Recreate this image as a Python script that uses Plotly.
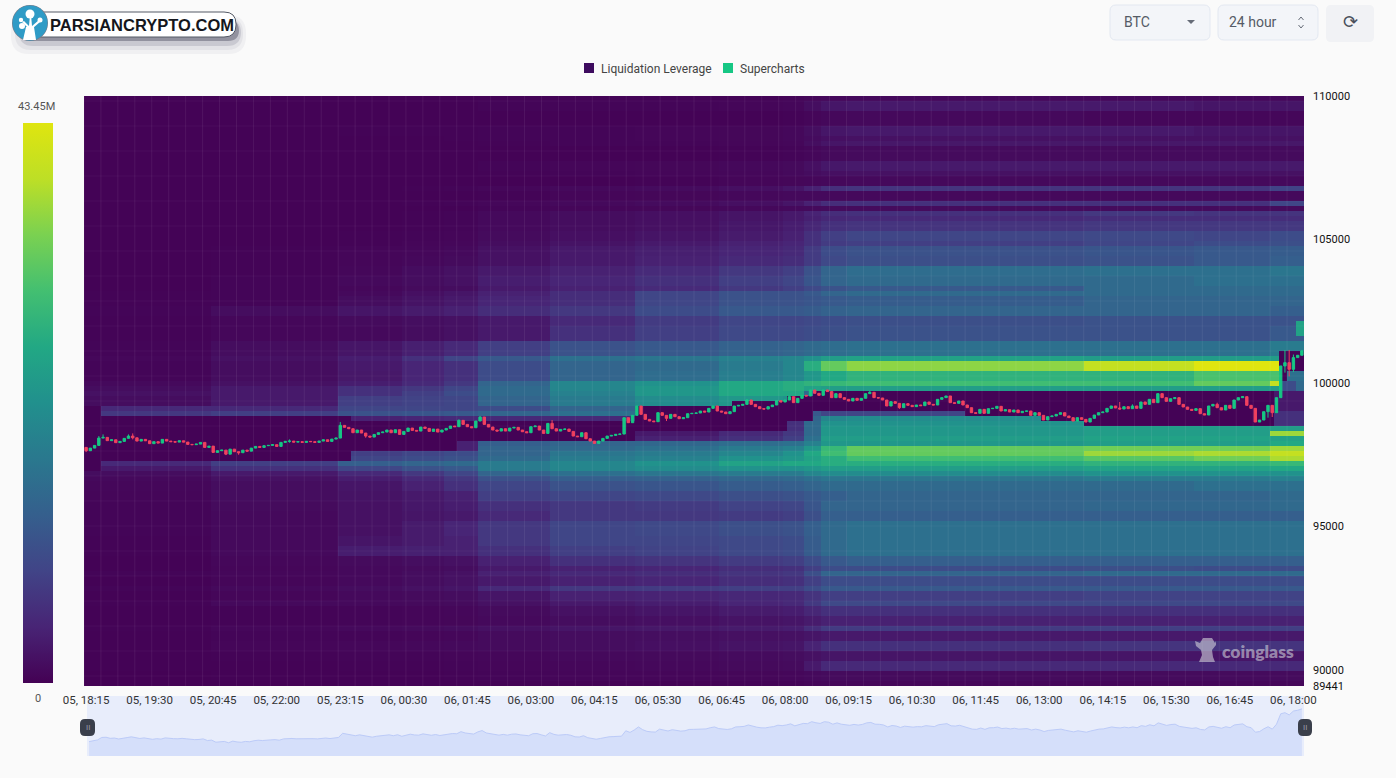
import numpy as np
import plotly.graph_objects as go

W, H = 1396, 778
def X(p): return p / W
def Y(p): return 1 - p / H

time_labels = ["05, 18:15","05, 19:30","05, 20:45","05, 22:00","05, 23:15","06, 00:30","06, 01:45","06, 03:00","06, 04:15","06, 05:30",
               "06, 06:45","06, 08:00","06, 09:15","06, 10:30","06, 11:45","06, 13:00","06, 14:15","06, 15:30","06, 16:45","06, 18:00"]
price_ticks = [89441, 90000, 95000, 100000, 105000, 110000]
legend_names = ["Liquidation Leverage", "Supercharts"]

first_open = 97755
closes_a = [97640,97730,97825,98080,98105,97990,98020,97920,97965,98070,98150,98090,97975,98035,97985,97885,97955,97905,98035,97975,
            97955,97940,97985,97940,97860,97850,97870,97930,97755,97800,97580,97640,97660,97520,97695,97605,97570,97660,97625,97730,
            97790,97755,97815,97825,97850,97790,97930,97965,97975,97940,97955,97930,97965,97955,97930,97975,98020,97965,98045]
closes_b = [98080,98522,98453,98406,98267,98360,98255,98150,98115,98208,98267,98290,98360,98267,98371,98208,98313,98429,98348,98325,
            98464,98418,98313,98394,98290,98360,98418,98499,98476,98697,98557,98476,98441,98674,98813,98557,98464,98360,98325,98406,
            98325,98429,98453,98360,98301,98267,98476,98499,98360,98243,98592,98406,98325,98383,98394,98313,98150,98127]
closes_c = [98267,98057,97976,97895,97976,98069,98150,98174,98209,98220,98790,98616,98872,99197,98906,98732,98674,98651,98965,98872,
            98767,98906,98825,98755,98790,98930,98941,98953,99023,98988,99116,99197,99023,98988,98930,99000,99197,99220,99255,99407,
            99255,99174,99104,99093,99174,99232,99383,99337,99407,99523,99314,99465,99569,99546,99755,99639,99569,99755,99700]
closes_d = [99488,99628,99489,99430,99372,99465,99395,99465,99628,99675,99489,99477,99407,99198,99349,99291,99140,99279,99221,99175,
            99233,99209,99337,99256,99233,99430,99489,99547,99314,99291,99372,99233,99140,98965,98942,99081,98942,99105,99116,99186,
            99023,99070,98988,99058,98965,99012,99023,98872,98965,98872,98709,98826,98849,98907,98965,98849,98791,98674,98791]
closes_e = [98732,98639,98767,98883,98965,98988,99116,99198,99128,99093,99174,99105,99198,99116,99337,99256,99430,99314,99628,99488,
            99360,99453,99488,99256,99163,99081,99046,99105,98930,98884,99198,99256,99139,99058,99221,99116,99407,99488,99523,99221,
            99116,98639,98709,99000,99221,98965,99488,100593,100709,100477,100884,100965,101116]
closes = closes_a + closes_b + closes_c + closes_d + closes_e
opens = [first_open] + closes[:-1]
wick_high = {3:98150,4:98208,10:98208,11:98243,48:98034,60:98639,88:98730,93:98848,110:98709,137:98800,156:99440,
             166:99560,176:99680,185:99720,244:99337,247:99256,267:99314,283:101151,284:101151,285:100990,287:101151}
wick_low = {0:97592,11:98034,33:97487,36:97499,48:97918,66:98092,109:98400,137:98674,192:99100,244:99080,279:98790,
            280:98814,283:100361,284:100230,285:100384}
highs = [max(o, c, wick_high.get(i, 0)) for i, (o, c) in enumerate(zip(opens, closes))]
lows = [min(o, c, wick_low.get(i, 10**6)) for i, (o, c) in enumerate(zip(opens, closes))]

phase_starts = [0,30,60,75,85,93,110,130,150,165,170,174,180,236,262,280]
band_tops = [110000,109825,109476,108953,108605,108430,108256,107733,107384,107209,106930,106666,106317,106142,105968,105793,105619,
             105340,104990,104816,104467,104118,103769,103665,103350,103246,103001,102722,102408,102059,101501,101012,100803,100454,
             100105,99930,99756,99616,99267,99093,98918,98744,98569,98395,98220,98046,97871,97697,97523,97348,97174,96999,96825,96580,
             96231,95952,95533,95184,94660,94311,93962,93613,93369,93194,92950,92741,92392,92148,91799,91450,91275,90926,90647,90228,89949,89670]
band_values = [
 [.3,.3,.3,.3,.3,.4,.4,.4,.4,.5,.7,.9,1,1,1,1],
 [.3,.3,.3,.3,.3,.5,.5,.5,.6,.8,1.6,2.6,3,3,2.5,2.5],
 [.2,.2,.2,.2,.2,.3,.3,.3,.3,.4,.6,.9,1,.8,.8,.8],
 [.3,.3,.4,.4,.4,.5,.5,.6,.7,.9,1.6,2.6,3,3,2.5,2.5],
 [.3,.3,.3,.3,.4,.5,.5,.6,.7,.9,1.3,1.8,2,2,2,2],
 [.2,.2,.3,.3,.3,.4,.5,.5,.6,.8,1.6,2.5,2.8,2.8,2.8,2.8],
 [.2,.2,.2,.2,.2,.3,.3,.3,.4,.5,.8,1.1,1.2,1.2,1.2,1.2],
 [.2,.2,.2,.2,.3,.5,.6,.7,.9,1.1,1.8,2.7,3,3,3,3],
 [.2,.2,.2,.2,.3,.4,.5,.6,.8,1,1.4,1.8,2,2,2,2],
 [.2,.2,.2,.2,.2,.3,.3,.4,.6,.7,.8,.9,1,1,1,1],
 [.2,.2,.3,.4,.5,.8,1,1.3,1.8,2.5,4,5.8,6.5,6.5,6.5,8.5],
 [.2,.2,.2,.2,.3,.4,.6,.7,.9,1,1,1,1,1,1,1],
 [.2,.2,.3,.4,.5,.8,1,1.3,1.8,2.5,4,5.5,6,6,6,9],
 [.2,.2,.2,.2,.3,.5,.6,.7,.9,1,1.1,1.2,1.2,1.2,1.2,1.2],
 [.2,.2,.3,.4,.5,1,1.5,1.8,2.4,3,4.2,5.5,6,7,6.5,6.5],
 [.2,.2,.3,.4,.5,1,1.5,1.8,2.4,3,3.8,4.7,5,5.5,5.5,5.5],
 [.2,.2,.3,.4,.5,1,1.5,1.9,2.7,3.5,4.7,6,6.5,7,7,7],
 [.2,.3,.4,.5,.6,1.2,1.8,2.4,3.2,4,6,8,9,9.5,9,10],
 [.2,.3,.4,.6,.8,1.5,2.2,3,4,4.5,6,7.5,8,9,10,10.5],
 [.3,.4,.6,.8,1,2,3,3.7,4.5,5,7.5,10,11,11.5,12,12.5],
 [.3,.4,.6,.9,1.2,2,3,4,5,5.5,7.5,9.5,10.5,11,12,13],
 [.3,.4,.8,1.4,2,3,4,5.2,7,8,11,14,15.5,16,16,17],
 [.3,.5,1,1.8,2.5,4,5,7,9,10,14,19,21,21,21,21],
 [.3,.5,1,1.5,2,3.5,4.5,6,8,9,11.5,14,15,15,16,16],
 [.3,.5,.8,1.2,1.5,3,4,5.2,7,8,9.5,11,12,15,15,15],
 [.4,.5,1,1.8,2.5,4,5.5,9,11,11,12,14,15,15,15,15],
 [.4,.5,1.5,2.2,3,4.5,5.5,9,11,11,11.5,12,12.5,14,14,14],
 [.5,1.5,2.5,3.2,4,5.5,7,10,12,12,12.5,13.5,14,14,14,13],
 [.4,.8,1.2,1.6,2,3,5,7.5,9,9,9.5,10,10.5,11,11,11],
 [.4,.8,1,1.5,2,3,6,8,9.5,9.5,10,10.5,11,11,11,12],
 [.5,1.5,2.5,3.7,5,8,11,12,13.5,14,15,15.5,16,16,16,18],
 [.8,2,3.5,6,9,12,16,17,19,20,22,24,25,24,24,24],
 [.5,1.5,3,4.5,6,10,14,15,18,20,27,33,36,40,43.4,43.4],
 [.5,1.5,2.8,4.5,6,10,14,15.5,18.5,20,23,26,28,28,31,31],
 [1,2,3.5,5,7,14,20,22,26,27,28,29,30,30,33,40],
 [1.5,3,6,7,9,15,20,23,26,27,25,24,24,24,24,24],
 [2,3,6,8,10,15,19,23,26,26,15,10,10,10,10,10],
 [1.5,3,8,8.5,9,14,18,21,23,22,15,10,10,10,10,10],
 [5,5,9,9,9,10,14,16,18,18,14,10,10,10,10,10],
 [7,8,11,11.5,12,14,16,16,16,16,12,9,9,9,9,9],
 [1.5,3,4,4.5,5,5,5,5,6,7,14,20,21,21,21,21],
 [1,2,3,3,3,3,3,3,4.5,6,15,22,22,22,22,22],
 [1,2,2,2,2,2,3,3,4.5,6,15,23,23,24,24,24],
 [1,2,2,2,2,2,3,3,5,7,15,23,23,24,24,37],
 [1,2,2,2,2,3,3,4,6,8,16,24,24,25,25,25],
 [1,2,3,3.5,4,13,14,14.5,15.5,16,19,23,23,24,24,26],
 [1,2,3,3.5,4,14,15,16,18,19,23,29,33,34,34,37],
 [1,2,8,9,10,14,17,18,20,22,26,30,33,37,38,40],
 [2,4,9,10,11,15,18,19,22,23,25,27,30,32,34,38],
 [5,8,13,14,15,18,20,22,25,26,26,27,27,28,28,29],
 [3,6,9,11,12,18,20,21,22,22,23,24,24,25,25,26],
 [1.5,3,5,7,9,14,16,17,18,18,20,21,21,22,22,22],
 [1,2,3.5,5,7,11,13,13.5,14.5,15,16,17,17,18,18,19],
 [.8,1.5,2.5,4,6,9,11,11.5,12.5,13,14,15,15,15,16,16],
 [.6,1.5,2.2,3,4,8,9,9.5,10.5,11,12,13,14,14,14,15],
 [.5,1.2,2,2.7,3.5,6,7,7.5,8.5,9,11.5,14,14,14.5,14.5,15],
 [.5,1,2,2.5,3,5,7,7,7.5,8,10.5,13,13,13,13,13],
 [.5,1,2,3.2,4.5,7,9,9.5,10.5,11,13,15,16,16,16,16],
 [.4,1,2.5,3.2,4,7,9,9,9.5,10,12.5,15,16,16,16,16],
 [.4,1,3.5,3.8,4,6,8,8.5,9.5,10,12.5,15,16,16,16,16],
 [.3,.8,1.2,1.6,2,4,6,6.5,7.5,8,10,12,13,13,13,13],
 [.3,.6,1,1.2,1.5,3,4,4.5,5.5,6,8,10,10,10.5,10,10],
 [.5,.8,1,1.5,2,4,5,5.5,6.5,7,10.5,14,14,15,15,15],
 [.3,.6,1,1.5,2,3,4,4.5,5.5,6,8,10,10,10,10,10],
 [.5,1,1.5,2,2.5,5,7,7.5,8,8,10,12,12,12,12,12],
 [.2,.6,1,1.2,1.5,2.5,4,4.2,4.8,5,6.5,8,8,8.5,8.5,8.5],
 [.4,1,1,1.1,1.2,2,3,3.5,4.5,5,7.2,9.5,9.5,9.5,9.5,9.5],
 [.2,.4,.5,.6,.8,1.2,2,2.5,3.2,3.5,4.7,6,6,6,6,6],
 [.2,.4,.5,.6,.7,1,1.5,1.8,2.2,2.5,3.2,4,4,4,4,4],
 [.4,.8,1,1.2,1.5,2,2.5,2.8,3.2,3.5,5.5,7.5,7.5,8,8,8],
 [.2,.5,.5,.6,.8,1.2,1.5,1.6,1.9,2,2.5,3,3,3,3,3],
 [.3,.6,.8,.9,1,1.2,1.5,1.8,2.2,2.5,4.2,6,6,6.5,6.5,6.5],
 [.2,.4,.5,.5,.6,.8,1,1.1,1.3,1.5,2,2.5,2.5,2.5,2.5,2.5],
 [.2,.3,.4,.4,.5,.6,.8,.9,1.1,1.2,3,5,5,5,5,5],
 [.1,.2,.3,.3,.4,.5,.6,.6,.7,.8,1,1.2,1.2,1.2,1.2,1.2],
 [.1,.1,.2,.2,.2,.3,.3,.3,.4,.4,.6,.8,.8,.8,.8,.8],
]
# cleared zone around the price: (first candle, upper price, lower price)
cleared_steps = [(0,99267,97000),(4,98918,97348),(63,98758,97697),(88,98758,98046),(130,99267,98395),(153,99442,98395),
                 (166,99581,98744),(172,99756,99093),(208,99756,98918),(224,99756,98848),(226,99756,98709),(236,99791,98569),(282,101152,98569)]
cleared_level = 0.2
# late patches: (first candle, last candle, upper price, lower price, value)
patches = [(281,288,99756,99093,3),(281,288,99093,98569,6),(282,288,100105,99756,10),(286,288,100105,99756,15),
           (284,288,100454,100105,16),(286,288,102200,101710,25)]

max_value = 43.45
colour_stops = [[0,"#440154"],[.1,"#482475"],[.2,"#414487"],[.3,"#355f8d"],[.4,"#2a788e"],[.5,"#21908d"],
                [.6,"#22a884"],[.7,"#43bf71"],[.8,"#7ad151"],[.9,"#bddf26"],[1,"#dfe50f"]]

n_cols, n_rows = 288, 118
price_lo, price_hi = 89441, 110000
row_edges = np.linspace(price_lo, price_hi, n_rows + 1)
row_mid = (row_edges[:-1] + row_edges[1:]) / 2
col_edges = np.arange(n_cols + 1)
tops = np.array(band_tops)
table = np.array(band_values)
z = np.zeros((n_rows, n_cols))
for c in range(n_cols):
    ph = np.searchsorted(phase_starts, c, side="right") - 1
    _, hi, lo = [s for s in cleared_steps if s[0] <= c][-1]
    for r in range(n_rows):
        b = np.searchsorted(-tops, -row_mid[r], side="right") - 1
        b = min(max(b, 0), len(tops) - 1)
        z[r, c] = cleared_level if lo < row_mid[r] < hi else table[b, ph]
for c0, c1, hi, lo, v in patches:
    mask = (row_mid < hi) & (row_mid > lo)
    z[mask, c0:c1] = v

x_mid = [i + 0.5 for i in range(len(closes))]
fig = go.Figure()
fig.add_trace(go.Heatmap(
    x=col_edges, y=row_edges, z=z, zmin=0, zmax=max_value, colorscale=colour_stops, showlegend=False, hoverinfo="skip",
    colorbar=dict(x=X(23), xanchor="left", y=Y(123), yanchor="top", len=560, lenmode="pixels", thickness=30, thicknessmode="pixels",
                  xpad=0, ypad=0, outlinewidth=0, borderwidth=0, showticklabels=False, ticks="")))
grid_x, grid_y = [], []
for k in range(0, n_cols, 4):
    grid_x += [k, k, None]
    grid_y += [price_lo, price_hi, None]
fig.add_trace(go.Scatter(x=grid_x, y=grid_y, mode="lines", line=dict(color="rgba(255,255,255,0.07)", width=1), hoverinfo="skip", showlegend=False))
hgrid_x, hgrid_y = [], []
for k in range(2, n_rows, 5):
    hgrid_x += [0, n_cols, None]
    hgrid_y += [row_edges[k], row_edges[k], None]
fig.add_trace(go.Scatter(x=hgrid_x, y=hgrid_y, mode="lines", line=dict(color="rgba(255,255,255,0.04)", width=1), hoverinfo="skip", showlegend=False))
fig.add_trace(go.Candlestick(
    x=x_mid, open=opens, high=highs, low=lows, close=closes, showlegend=False, whiskerwidth=0,
    increasing=dict(line=dict(color="#16c784", width=1), fillcolor="#16c784"),
    decreasing=dict(line=dict(color="#f0405f", width=1), fillcolor="#f0405f")))
fig.add_trace(go.Scatter(x=x_mid, y=closes, xaxis="x2", yaxis="y2", mode="lines", fill="tozeroy",
                         line=dict(color="#bccbf8", width=1), fillcolor="#d5dffa", hoverinfo="skip", showlegend=False))

def rrect(x0, y0, x1, y1, r):
    return (f"M{X(x0+r)},{Y(y0)} L{X(x1-r)},{Y(y0)} Q{X(x1)},{Y(y0)} {X(x1)},{Y(y0+r)} L{X(x1)},{Y(y1-r)} Q{X(x1)},{Y(y1)} {X(x1-r)},{Y(y1)} "
            f"L{X(x0+r)},{Y(y1)} Q{X(x0)},{Y(y1)} {X(x0)},{Y(y1-r)} L{X(x0)},{Y(y0+r)} Q{X(x0)},{Y(y0)} {X(x0+r)},{Y(y0)} Z")
def box(x0, y0, x1, y1, r, fill, line=None, lw=0, layer="above"):
    return dict(type="path", xref="paper", yref="paper", path=rrect(x0, y0, x1, y1, r), fillcolor=fill,
                line=dict(color=line or "rgba(0,0,0,0)", width=lw), layer=layer)
def circle(cx, cy, r, fill):
    return dict(type="circle", xref="paper", yref="paper", x0=X(cx-r), x1=X(cx+r), y0=Y(cy+r), y1=Y(cy-r), fillcolor=fill, line=dict(width=0))
def poly(points, fill=None, line=None, lw=1):
    p = "M" + " L".join(f"{X(a)},{Y(b)}" for a, b in points) + (" Z" if fill else "")
    return dict(type="path", xref="paper", yref="paper", path=p, fillcolor=fill or "rgba(0,0,0,0)", line=dict(color=line or "rgba(0,0,0,0)", width=lw))
def text(s, x, y, size, color, xa="center", font=None, weight=None):
    f = dict(size=size, color=color)
    if font: f["family"] = font
    if weight: f["weight"] = weight
    return dict(text=s, x=X(x), y=Y(y), xref="paper", yref="paper", showarrow=False, xanchor=xa, yanchor="middle", font=f)

shapes = [
    box(87, 696, 1304, 756, 0, "#e8edfb", layer="below"),
    box(11, 15, 246, 54, 18, "rgba(120,120,140,0.07)"),
    box(15, 17, 243, 50, 16, "rgba(120,120,140,0.10)"),
    box(19, 19, 241, 46, 14, "rgba(110,110,130,0.22)"),
    box(25, 20, 239, 41, 11, "#92929f"),
    box(30, 12, 236, 37, 12, "#ffffff", "#555a66", 1),
    circle(30, 23, 18, "#777a88"),
    circle(30, 23, 17.5, "#2f9bc6"),
    poly([(26, 27), (34, 27), (36, 40), (23, 40)], "#ffffff"),
    poly([(28, 28), (22, 22), (24, 21), (29, 26), (30, 15), (31, 15), (32, 26), (39, 20), (40, 22), (33, 28)], "#ffffff"),
    circle(30, 14, 4.5, "#ffffff"), circle(40, 20, 2.5, "#ffffff"), circle(21, 20, 2.2, "#ffffff"), circle(22, 26, 3, "#ffffff"),
    box(1110, 5, 1210, 40, 6, "#f3f5f9", "#e3e8f1", 1),
    box(1218, 5, 1318, 40, 6, "#f3f5f9", "#e3e8f1", 1),
    box(1326, 5, 1374, 42, 5, "#f1f2f5"),
    poly([(1187, 20), (1195, 20), (1191, 24)], "#666c78"),
    poly([(1298.5, 20), (1301, 17), (1303.5, 20)], None, "#666c78", 1),
    poly([(1298.5, 25), (1301, 28), (1303.5, 25)], None, "#666c78", 1),
    box(80, 719, 95, 736, 5, "#3a3f4b"),
    box(1298, 719, 1312, 736, 5, "#3a3f4b"),
    # legend keys
    box(584, 63, 594, 73, 0, "#3d0b5e"),
    box(723, 63, 733, 73, 0, "#16c784"),
    # mascot of the watermark
    poly([(1195, 641), (1200, 643), (1203, 638), (1212, 638), (1215, 643), (1216, 641), (1216, 645), (1212, 650), (1213, 657), (1215, 662),
          (1199, 662), (1202, 655), (1201, 650), (1196, 646)], "rgba(205,205,215,0.62)"),
]
FONT = "Roboto"
annotations = [
    text("PARSIANCRYPTO.COM", 48, 25, 16.5, "#14161c", "left", "Liberation Sans", 700),
    text("BTC", 1122, 22, 14, "#555b66", "left"),
    text("24 hour", 1227, 22, 14, "#555b66", "left"),
    text("⟳", 1350, 22, 18, "#4a4f5a", "center", "DejaVu Sans"),
    text("43.45M", 36, 106, 11, "#555555"),
    text("0", 38, 698, 11, "#555555"),
    text("II", 87.5, 727, 8, "#9a9daa"),
    text("II", 1305, 727, 8, "#9a9daa"),
    text("coinglass", 1258, 651, 17.5, "rgba(205,205,215,0.62)", "center", "Lato", 800),
    text(legend_names[0], 599, 69, 12, "#444444", "left"),
    text(legend_names[1], 738, 69, 12, "#444444", "left"),
]

fig.update_layout(
    width=W, height=H, margin=dict(l=0, r=0, t=0, b=0, autoexpand=False), showlegend=False,
    paper_bgcolor="#fafafa", plot_bgcolor="rgba(0,0,0,0)", font=dict(family=FONT, size=11, color="#333333"),
    boxgap=0.3, boxgroupgap=0.2, hovermode=False, dragmode=False,
    xaxis=dict(domain=[X(84), X(1304)], range=[0, n_cols], tickmode="array", tickvals=[0.5 + 15 * k for k in range(len(time_labels))],
               ticktext=time_labels, showgrid=False, zeroline=False, ticks="", ticklabelstandoff=5, rangeslider=dict(visible=False),
               tickfont=dict(size=11.5, color="#333333"), showline=False, anchor="y"),
    yaxis=dict(domain=[Y(686), Y(96)], range=[price_lo, price_hi], side="right", tickmode="array", tickvals=price_ticks,
               ticktext=[str(v) for v in price_ticks], showgrid=False, zeroline=False, ticks="", ticklabelstandoff=8,
               tickfont=dict(size=11, color="#111111"), anchor="x"),
    xaxis2=dict(domain=[X(87), X(1304)], range=[0, n_cols], visible=False, anchor="y2"),
    yaxis2=dict(domain=[Y(756), Y(696)], range=[96115, 102480], visible=False, anchor="x2"),
    shapes=shapes, annotations=annotations,
)
fig.write_html("out.html", config=dict(displayModeBar=False, staticPlot=False),
               post_script="document.body.style.margin='0';document.body.style.overflow='hidden';")
